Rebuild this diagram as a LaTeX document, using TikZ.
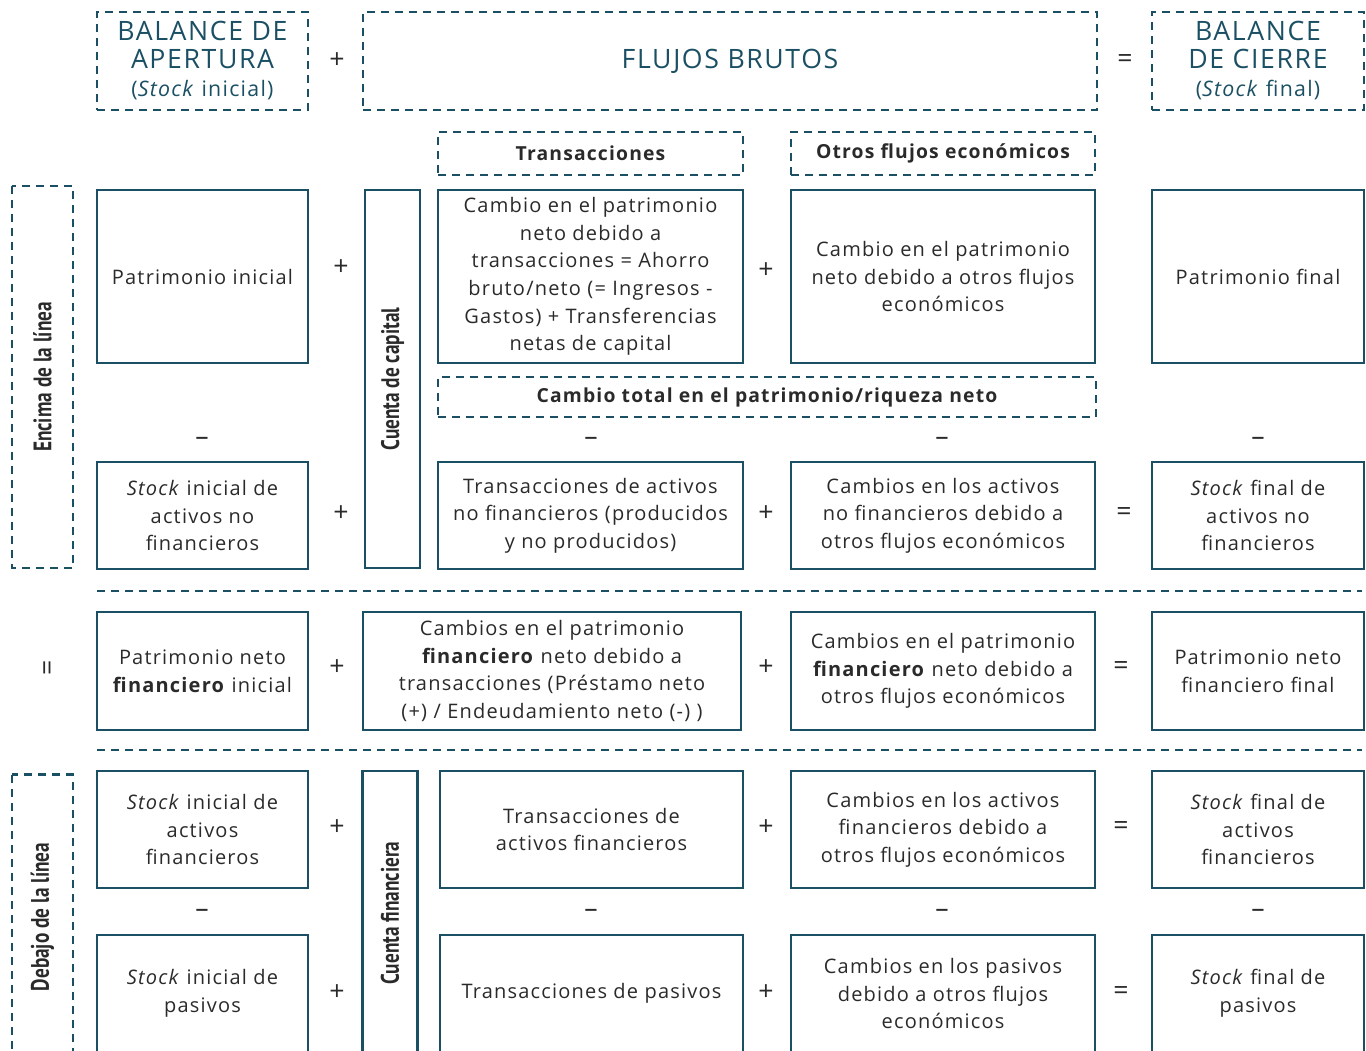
\documentclass[tikz,border=0pt]{standalone}
\usepackage{graphicx}
\usepackage{fontspec}
\setmainfont{Open Sans}[LetterSpace=6]
\newfontfamily\lblfont{PT Sans}
\definecolor{petrol}{HTML}{1B5064}
\definecolor{ink}{HTML}{2A2A2A}
\newdimen\px \px=0.75pt
\newcommand\narrowtext[1]{\scalebox{0.76}[1]{#1}}
\tikzset{
  cell/.style 2 args={draw=petrol, line width=2.2pt, minimum width=#1\px,
    minimum height=#2\px, inner sep=0pt, align=center, text=ink,
    font=\fontsize{15}{20.7}\selectfont},
  dashcell/.style 2 args={cell={#1}{#2}, dash pattern=on 6pt off 4.5pt},
  head/.style={text=petrol, font=\fontsize{20}{21}\selectfont},
  lbl/.style={font=\bfseries\fontsize{14.5}{16}\selectfont},
  vlbl/.style={font=\lblfont\bfseries\fontsize{19}{20}\selectfont},
  sign/.style={text=ink, font=\fontsize{20}{20}\selectfont, inner sep=0pt},
  sepline/.style={draw=petrol, line width=2.2pt, dash pattern=on 6pt off 4.5pt}
}
\begin{document}
\begin{tikzpicture}[x=0.75pt, y=-0.75pt]
\useasboundingbox (0,0) rectangle (1366,1050);

% encabezado
\node[dashcell={211}{98}, head] (apertura) at (202.5,61)
  {BALANCE DE\\APERTURA\\{\fontsize{16}{21}\selectfont(\textit{Stock} inicial)}};
\node[dashcell={734}{98}, head] (flujos) at (730,61) {FLUJOS BRUTOS};
\node[dashcell={212}{98}, head] (cierre) at (1258,61)
  {BALANCE\\DE CIERRE\\{\fontsize{16}{21}\selectfont(\textit{Stock} final)}};
\node[sign] (hplus) at (337,61) {+};
\node[sign] (heq) at (1125,61) {=};

\node[dashcell={305}{43}, lbl] (transhead) at (590.5,153.5) {Transacciones};
\node[dashcell={304}{43}, lbl] (otroshead) at (943,153.5) {Otros flujos económicos};

% encima de la linea
\node[dashcell={382}{61}, vlbl, rotate=90] (encima) at (42.5,377) {\narrowtext{Encima de la línea}};
\node[cell={378}{55}, vlbl, rotate=90] (capital) at (392.5,379) {\narrowtext{Cuenta de capital}};

\node[cell={211}{173}] (patini) at (202.5,276.5) {Patrimonio inicial};
\node[cell={305}{173}] (transpat) at (590.5,276.5)
  {Cambio en el patrimonio\\neto debido a\\transacciones = Ahorro\\bruto/neto (= Ingresos -\\Gastos) + Transferencias\\netas de capital};
\node[cell={304}{173}] (otrospat) at (943,276.5)
  {Cambio en el patrimonio\\neto debido a otros flujos\\económicos};
\node[cell={212}{173}] (patfin) at (1258,276.5) {Patrimonio final};
\node[sign] (p1a) at (341,268) {+};
\node[sign] (p1b) at (766,271) {+};

\node[dashcell={658}{40}, lbl] (total) at (767,397) {Cambio total en el patrimonio/riqueza neto};

\node[sign] (m1a) at (202,441) {--};
\node[sign] (m1b) at (591,441) {--};
\node[sign] (m1c) at (942,441) {--};
\node[sign] (m1d) at (1258,441) {--};

\node[cell={211}{107}] (nfini) at (202.5,515.5) {\textit{Stock} inicial de\\activos no\\financieros};
\node[cell={305}{107}] (nftrans) at (590.5,515.5) {Transacciones de activos\\no financieros (producidos\\y no producidos)};
\node[cell={304}{107}] (nfotros) at (943,515.5) {Cambios en los activos\\no financieros debido a\\otros flujos económicos};
\node[cell={212}{107}] (nffin) at (1258,515.5) {\textit{Stock} final de\\activos no\\financieros};
\node[sign] (p3a) at (341,514) {+};
\node[sign] (p3b) at (766,514) {+};
\node[sign] (e3) at (1124,514) {=};

% linea
\coordinate (sepA1) at (97,591);
\coordinate (sepA2) at (1362,591);
\draw[sepline] (sepA1) -- (sepA2);

\node[sign, rotate=90] (e4l) at (50,668) {=};
\node[cell={211}{118}] (pnfini) at (202.5,671) {Patrimonio neto\\\textbf{financiero} inicial};
\node[cell={378}{118}] (pnftrans) at (552,671)
  {Cambios en el patrimonio\\\textbf{financiero} neto debido a\\transacciones (Préstamo neto\\(+) / Endeudamiento neto (-) )};
\node[cell={304}{118}] (pnfotros) at (943,671)
  {Cambios en el patrimonio\\\textbf{financiero} neto debido a\\otros flujos económicos};
\node[cell={212}{118}] (pnffin) at (1258,671) {Patrimonio neto\\financiero final};
\node[sign] (p4a) at (337,668) {+};
\node[sign] (p4b) at (766,668) {+};
\node[sign] (e4) at (1121,668) {=};

\coordinate (sepB1) at (97,750);
\coordinate (sepB2) at (1362,750);
\draw[sepline] (sepB1) -- (sepB2);

% debajo de la linea
\node[dashcell={285}{61}, vlbl, rotate=90] (debajo) at (42.5,917) {\narrowtext{Debajo de la línea}};
\node[cell={284}{55}, vlbl, rotate=90] (financiera) at (390,913) {\narrowtext{Cuenta financiera}};

\node[cell={211}{117}] (afini) at (202.5,829.5) {\textit{Stock} inicial de\\activos\\financieros};
\node[cell={303}{117}] (aftrans) at (591.5,829.5) {Transacciones de\\activos financieros};
\node[cell={304}{117}] (afotros) at (943,829.5) {Cambios en los activos\\financieros debido a\\otros flujos económicos};
\node[cell={212}{117}] (affin) at (1258,829.5) {\textit{Stock} final de\\activos\\financieros};
\node[sign] (p5a) at (337,828) {+};
\node[sign] (p5b) at (766,828) {+};
\node[sign] (e5) at (1121,828) {=};

\node[sign] (m5a) at (202,913) {--};
\node[sign] (m5b) at (591,913) {--};
\node[sign] (m5c) at (942,913) {--};
\node[sign] (m5d) at (1258,913) {--};

\node[cell={211}{117}] (pasini) at (202.5,993.5) {\textit{Stock} inicial de\\pasivos};
\node[cell={303}{117}] (pastrans) at (591.5,993.5) {Transacciones de pasivos};
\node[cell={304}{117}] (pasotros) at (943,993.5) {Cambios en los pasivos\\debido a otros flujos\\económicos};
\node[cell={212}{117}] (pasfin) at (1258,993.5) {\textit{Stock} final de\\pasivos};
\node[sign] (p6a) at (337,993) {+};
\node[sign] (p6b) at (766,993) {+};
\node[sign] (e6) at (1121,993) {=};
\end{tikzpicture}
\end{document}
